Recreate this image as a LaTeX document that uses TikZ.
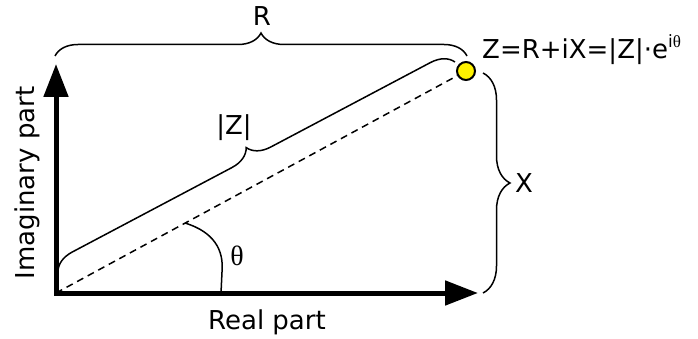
\documentclass[tikz,border=0pt]{standalone}
\usepackage{fontspec}
\setmainfont{DejaVu Sans}
\newfontfamily\thetafont{Liberation Serif}
\usetikzlibrary{decorations.pathreplacing,arrows.meta}
\begin{document}
\begin{tikzpicture}[x=1pt,y=-1pt,
  font=\fontsize{26}{30}\selectfont,
  axis/.style={line width=5pt, line join=miter,
    {Triangle[length=33pt,width=24pt]}-{Triangle[length=33pt,width=24pt]}},
  bracestyle/.style={decorate, decoration={brace, amplitude=#1}, line width=1.5pt},
  lbl/.style={inner sep=0pt}]
\useasboundingbox (0,0) rectangle (698,339);
\coordinate (O) at (56,293);
\coordinate (ytip) at (56,64);
\coordinate (xtip) at (478,293);
\node[circle, fill=yellow, draw=black, line width=2pt, minimum size=18pt, inner sep=0pt] (Z) at (466,71) {};
\draw[dash pattern=on 7pt off 5pt, line width=1.5pt] (O) -- (Z);
\draw[axis] (ytip) -- (O) -- (xtip);
% braces
\coordinate (R1) at (55,56);
\coordinate (R2) at (467,56);
\draw[bracestyle=23pt] (R1) -- (R2);
\coordinate (M1) at (58,272);
\coordinate (M2) at (455,62);
\draw[bracestyle=22pt] (M1) -- (M2);
\coordinate (X1) at (483,73);
\coordinate (X2) at (483,293);
\draw[bracestyle=27pt] (X1) -- (X2);
% angle
\coordinate (A1) at (185,223);
\coordinate (A2) at (221,293);
\draw[line width=1.5pt] (A1) .. controls (214,232) and (224,250) .. (222,272) -- (A2);
% labels
\node[lbl] (Rl) at (262,16) {R};
\node[lbl] (Zl) at (234,128) {|Z|};
\node[lbl] (Xl) at (524,183) {X};
\node[lbl] (th) at (237,256) {\fontsize{28}{30}\thetafont θ};
\node[lbl, anchor=west] (eq) at (482,50) {Z=R+iX=|Z|·e\raisebox{0.42em}{\fontsize{17}{17}\selectfont i\thetafont θ}};
\node[lbl] (re) at (267,322) {Real part};
\node[lbl, rotate=90] (im) at (27,183) {Imaginary part};
\end{tikzpicture}
\end{document}
